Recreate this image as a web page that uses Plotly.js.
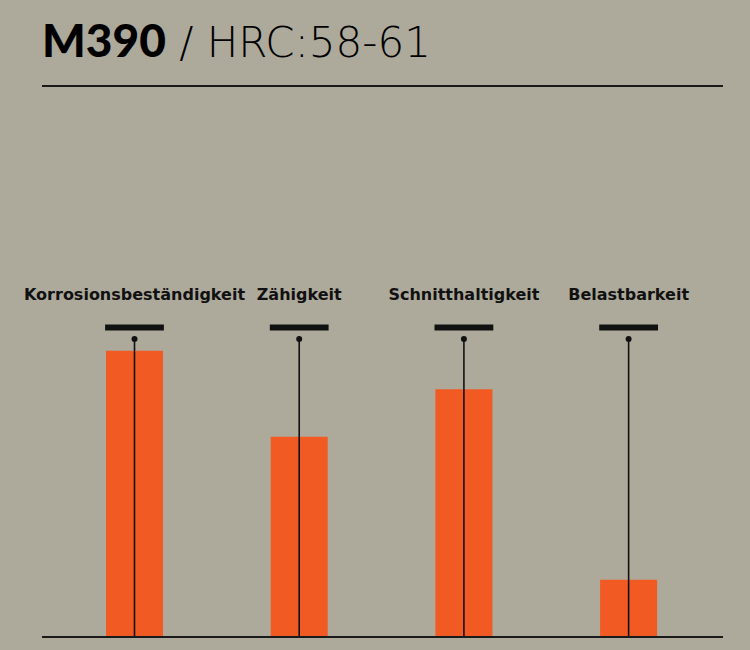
<!DOCTYPE html>
<html>
<head>
<meta charset="utf-8">
<script src="https://cdn.plot.ly/plotly-3.0.1.min.js"></script>
<style>
html,body{margin:0;padding:0;background:#ADAA9C;}
#chart{width:750px;height:650px;}
</style>
</head>
<body>
<div id="chart"></div>
<script>
// Data
const categories = ["Korrosionsbeständigkeit", "Zähigkeit", "Schnitthaltigkeit", "Belastbarkeit"];
const values = [92.5, 64.6, 80.0, 18.2];
const maxValues = [100, 100, 100, 100];
const pinValues = [96.3, 96.3, 96.3, 96.3];

const bg = "#ADAA9C";
const orange = "#F15A22";
const ink = "#111111";

const xRange = [-0.5616, 3.573];
const yRange = [0, 107.3];

const traces = [
  {
    type: "bar",
    x: categories,
    y: values,
    width: 0.346,
    marker: {color: orange},
    hoverinfo: "skip",
    xaxis: "x",
    yaxis: "y"
  },
  {
    type: "scatter",
    mode: "markers",
    x: categories,
    y: pinValues,
    marker: {color: ink, size: 6},
    error_y: {
      type: "data",
      symmetric: false,
      array: pinValues.map(() => 0),
      arrayminus: pinValues,
      width: 0,
      thickness: 1.6,
      color: ink
    },
    hoverinfo: "skip",
    xaxis: "x",
    yaxis: "y"
  },
  {
    type: "scatter",
    mode: "markers",
    x: categories,
    y: maxValues,
    marker: {symbol: "line-ew", size: 42, color: ink, line: {color: ink, width: 6}},
    hoverinfo: "skip",
    xaxis: "x2",
    yaxis: "y"
  }
];

const layout = {
  width: 750,
  height: 650,
  paper_bgcolor: bg,
  plot_bgcolor: bg,
  showlegend: false,
  margin: {l: 42, r: 27, t: 305, b: 14},
  title: {
    text: '<span style="font-family:Lato;font-weight:900;font-size:46px">M390</span> / HRC:58-61',
    font: {family: "DejaVu Sans", size: 42, color: "#000000", weight: 200},
    x: 42/750, xanchor: "left", xref: "container",
    y: 1 - 42/650, yanchor: "middle", yref: "container"
  },
  xaxis: {
    type: "category",
    range: xRange,
    showline: true, linecolor: "#1a1a1a", linewidth: 2,
    showticklabels: false, ticks: "", showgrid: false, zeroline: false,
    fixedrange: true
  },
  xaxis2: {
    type: "category",
    overlaying: "x",
    side: "top",
    anchor: "y",
    range: xRange,
    showline: false, ticks: "", showgrid: false, zeroline: false,
    tickfont: {family: "DejaVu Sans", size: 16, color: ink, weight: "bold"},
    ticklabelstandoff: 1,
    fixedrange: true
  },
  yaxis: {
    range: yRange,
    showticklabels: false, showgrid: false, zeroline: false, showline: false, ticks: "",
    fixedrange: true
  },
  shapes: [
    {type: "line", xref: "paper", yref: "paper", x0: 0, x1: 1, y0: (650 - 14 - 86) / 331, y1: (650 - 14 - 86) / 331,
     line: {color: "#1a1a1a", width: 2}}
  ]
};

Plotly.newPlot("chart", traces, layout, {displayModeBar: false, staticPlot: true});
</script>
</body>
</html>
